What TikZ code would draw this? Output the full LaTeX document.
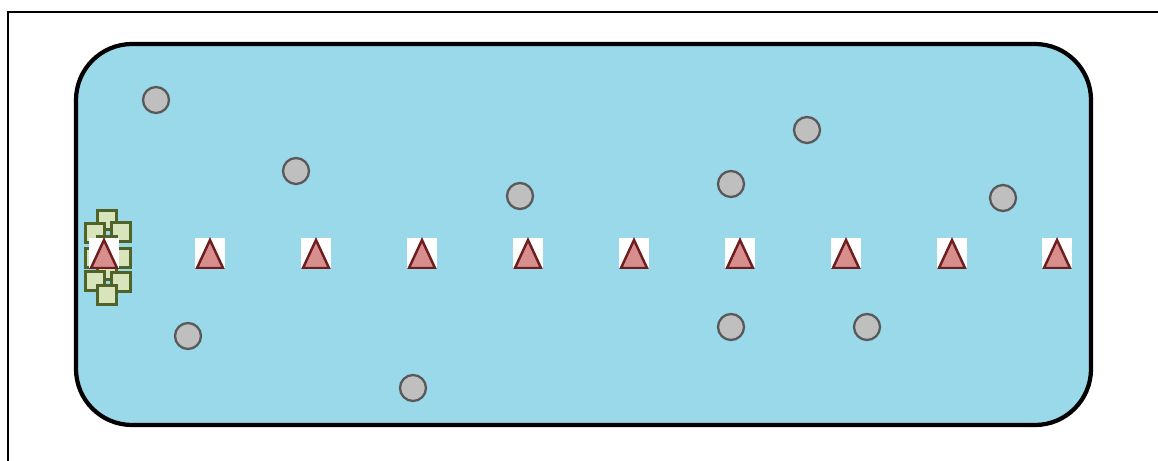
\documentclass[tikz,border=0pt]{standalone}
\usepackage{tikz}
\usetikzlibrary{positioning}
\definecolor{PoolBlue}{HTML}{99D9EA}
\definecolor{StoneFill}{HTML}{BFBFBF}
\definecolor{StoneInk}{HTML}{595959}
\definecolor{ConeFill}{HTML}{D98E8E}
\definecolor{ConeInk}{HTML}{6E1E1E}
\definecolor{CrateFill}{HTML}{D8E4BC}
\definecolor{CrateInk}{HTML}{4F6228}

\begin{document}
\begin{tikzpicture}[x=0.01cm, y=-0.01cm,
  stone/.style={circle, draw=StoneInk, fill=StoneFill, line width=0.65pt,
                minimum size=0.26cm, inner sep=0pt},
  crate/.style={rectangle, draw=CrateInk, fill=CrateFill, line width=0.6pt,
                minimum size=0.19cm, inner sep=0pt},
  cone/.style={rectangle, fill=white, minimum size=0.30cm, inner sep=0pt,
               path picture={
                 \draw[fill=ConeFill, draw=ConeInk, line width=0.7pt]
                   ([xshift=0.02cm]path picture bounding box.south west)
                   -- ([yshift=-0.02cm]path picture bounding box.north)
                   -- ([xshift=-0.02cm]path picture bounding box.south east)
                   -- cycle;}}
]
\useasboundingbox (0,0) rectangle (1158,461);
\clip (0,0) rectangle (1158,461);
% frame and pool
\draw[line width=0.6pt] (8,470) -- (8,12) -- (1170,12);
\draw[line width=1.2pt, fill=PoolBlue, rounded corners=0.56cm]
  (76,44) rectangle (1091,425);
% crates stacked at the left end
\node[crate] (c1) at (107,220) {};
\node[crate] (c2) at (95,233) {};
\node[crate] (c3) at (121,232) {};
\node[crate] (c4) at (107,246) {};
\node[crate] (c5) at (95,258) {};
\node[crate] (c6) at (121,258) {};
\node[crate] (c7) at (107,270) {};
\node[crate] (c8) at (95,281) {};
\node[crate] (c9) at (121,282) {};
\node[crate] (c10) at (107,295) {};
% row of cones
\node[cone] (k1) at (104,253) {};
\node[cone] (k2) at (210,253) {};
\node[cone] (k3) at (316,253) {};
\node[cone] (k4) at (422,253) {};
\node[cone] (k5) at (528,253) {};
\node[cone] (k6) at (634,253) {};
\node[cone] (k7) at (740,253) {};
\node[cone] (k8) at (846,253) {};
\node[cone] (k9) at (952,253) {};
\node[cone] (k10) at (1057,253) {};
% stones
\node[stone] (s1) at (156,100) {};
\node[stone] (s2) at (296,171) {};
\node[stone] (s3) at (520,196) {};
\node[stone] (s4) at (731,184) {};
\node[stone] (s5) at (807,130) {};
\node[stone] (s6) at (1003,198) {};
\node[stone] (s7) at (188,336) {};
\node[stone] (s8) at (413,388) {};
\node[stone] (s9) at (731,327) {};
\node[stone] (s10) at (867,327) {};
\end{tikzpicture}
\end{document}
